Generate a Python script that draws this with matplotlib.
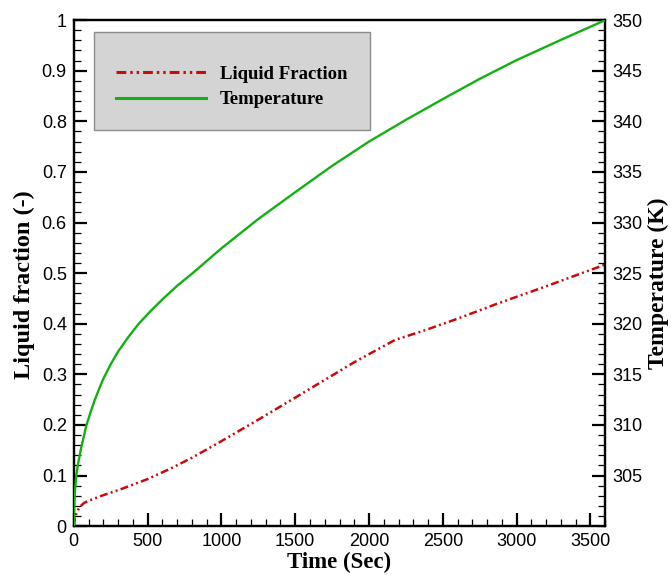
import matplotlib
matplotlib.use("Agg")
import matplotlib.pyplot as plt
from matplotlib.patches import Rectangle
from matplotlib.ticker import MultipleLocator, FuncFormatter

# liquid fraction (left axis)
time_lf = [0, 3, 7, 15, 25, 40, 70, 108, 198, 310, 500, 650, 800, 1000, 1230, 1460,
           1660, 1900, 2176, 2378, 2600, 2872, 3200, 3600]
liquid_fraction = [0, 0.008, 0.015, 0.023, 0.03, 0.038, 0.046, 0.051, 0.061, 0.072,
                   0.093, 0.113, 0.135, 0.168, 0.207, 0.247, 0.282, 0.324, 0.368,
                   0.387, 0.41, 0.44, 0.474, 0.517]

# temperature (right axis)
time_T = [0, 1, 3, 6, 10, 18, 30, 50, 85, 110, 140, 170, 198, 250, 300, 370, 440,
          520, 600, 700, 805, 1000, 1250, 1500, 1750, 2000, 2250, 2500, 2750, 3000,
          3300, 3600]
temperature = [300.0, 301.25, 302.25, 303.1, 303.9, 305.15, 306.25, 307.75, 309.95,
               311.1, 312.4, 313.5, 314.5, 316.0, 317.25, 318.7, 320.0, 321.25,
               322.4, 323.75, 325.0, 327.45, 330.35, 333.0, 335.6, 338.0, 340.15,
               342.2, 344.2, 346.05, 348.05, 350.0]

x_ticks = [0, 500, 1000, 1500, 2000, 2500, 3000, 3500]
lf_ticks = [0, 0.1, 0.2, 0.3, 0.4, 0.5, 0.6, 0.7, 0.8, 0.9, 1]
T_ticks = [305, 310, 315, 320, 325, 330, 335, 340, 345, 350]

RED = "#cc0a0a"
GREEN = "#12b012"
SERIF = "Liberation Serif"
SANS = "Liberation Sans"
DASHDOTDOT = (0, (3.2, 1.3, 0.8, 1.3, 0.8, 1.3))

fig = plt.figure(figsize=(6.71, 5.75), dpi=100)
ax = fig.add_axes([0.110, 0.085, 0.792, 0.880])
ax2 = ax.twinx()

ax.plot(time_lf, liquid_fraction, color=RED, linewidth=1.8,
        linestyle=DASHDOTDOT, zorder=3)
ax2.plot(time_T, temperature, color=GREEN, linewidth=1.7, zorder=3)

ax.set_xlim(0, 3600)
ax.set_ylim(0, 1)
ax2.set_ylim(300, 350)

ax.set_xticks(x_ticks)
ax.xaxis.set_minor_locator(MultipleLocator(100))
ax.set_yticks(lf_ticks)
ax.yaxis.set_minor_locator(MultipleLocator(0.02))
ax.yaxis.set_major_formatter(FuncFormatter(lambda v, p: f"{v:g}"))
ax2.set_yticks(T_ticks)
ax2.yaxis.set_minor_locator(MultipleLocator(1))

for a in (ax, ax2):
    a.tick_params(which="major", direction="in", length=9.5, width=1.6,
                  labelsize=13, pad=5)
    a.tick_params(which="minor", direction="in", length=5, width=0.9)
    for s in a.spines.values():
        s.set_linewidth(1.6)
ax.tick_params(axis="x", which="both", top=False)
ax.tick_params(axis="y", which="both", right=False)
for lab in ax.get_xticklabels() + ax.get_yticklabels() + ax2.get_yticklabels():
    lab.set_fontfamily(SANS)

ax.set_xlabel("Time (Sec)", fontfamily=SERIF, fontweight="bold", fontsize=16.5, labelpad=1)
ax.set_ylabel("Liquid fraction (-)", fontfamily=SERIF, fontweight="bold", fontsize=17.5, labelpad=5)
ax2.set_ylabel("Temperature (K)", fontfamily=SERIF, fontweight="bold", fontsize=17, labelpad=4)
ax.yaxis.label.set_y(0.478)
ax2.yaxis.label.set_y(0.48)

# legend box
box = Rectangle((0.038, 0.783), 0.52, 0.193, transform=ax.transAxes,
                facecolor="#d4d4d4", edgecolor="#8c8c8c", linewidth=1.0, zorder=4)
ax2.add_patch(box)
h1, = ax2.plot([], [], color=RED, linewidth=2.2, linestyle=DASHDOTDOT)
h2, = ax2.plot([], [], color=GREEN, linewidth=2.2)
leg = ax2.legend([h1, h2], ["Liquid Fraction", "Temperature"], loc="upper left",
                 bbox_to_anchor=(0.065, 0.925), frameon=False, handlelength=4.8,
                 handletextpad=0.75, labelspacing=0.45, borderaxespad=0,
                 prop={"family": SERIF, "weight": "bold", "size": 13.5})
leg.set_zorder(5)

fig.savefig("out.png", dpi=100, facecolor="white")
